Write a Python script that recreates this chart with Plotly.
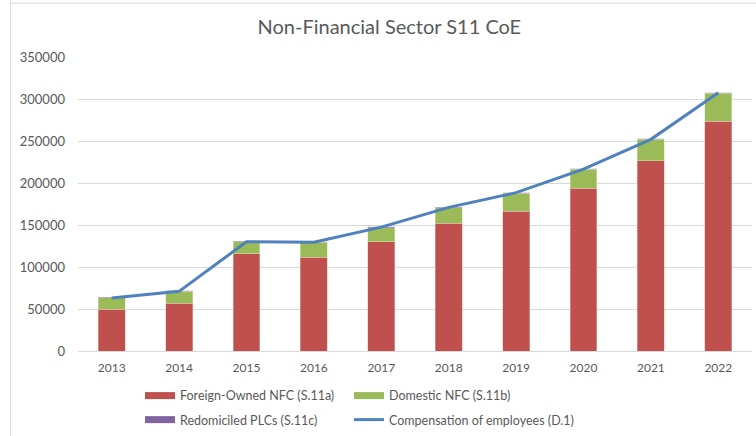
import plotly.graph_objects as go

years = ["2013", "2014", "2015", "2016", "2017", "2018", "2019", "2020", "2021", "2022"]
foreign_nfc = [49500, 56800, 115500, 111500, 130000, 152000, 166300, 194000, 226200, 273400]
domestic_nfc = [14000, 14200, 14500, 18000, 17000, 18500, 21500, 22200, 25600, 33500]
redomiciled_plc = [700, 700, 700, 700, 700, 700, 700, 700, 700, 700]
compensation = [63000, 71000, 130000, 129500, 147500, 171000, 188500, 216500, 252000, 307500]

yticks = [0, 50000, 100000, 150000, 200000, 250000, 300000, 350000]

FONT = "Lato, Open Sans, sans-serif"
GRAY = "#595959"

series = [
    ("Foreign-Owned NFC (S.11a)", foreign_nfc, "#C0504D", "#E6B9B8", "legend"),
    ("Domestic NFC (S.11b)", domestic_nfc, "#9BBB59", "#D7E4BD", "legend"),
    ("Redomiciled PLCs (S.11c)", redomiciled_plc, "#8064A2", "#CCC1DA", "legend2"),
]

fig = go.Figure()
for name, vals, col, edge, lg in series:
    fig.add_bar(x=years, y=vals, name=name, showlegend=False,
                marker=dict(color=col, line=dict(width=0.5, color=edge)))
# legend keys drawn as wide flat swatches, like the original legend
for name, vals, col, edge, lg in series:
    fig.add_scatter(x=[years[0]], y=[None], name=name, legend=lg, mode="lines",
                    line=dict(color=col, width=7), hoverinfo="skip")
fig.add_scatter(x=years, y=compensation, name="Compensation of employees (D.1)",
                legend="legend2", legendwidth=230, mode="lines",
                line=dict(color="#4F81BD", width=3))

leg_common = dict(orientation="h", xanchor="left", yanchor="top", yref="container",
                  entrywidth=164, entrywidthmode="pixels", traceorder="normal",
                  font=dict(size=12.5, color=GRAY, family=FONT), itemwidth=30,
                  bgcolor="rgba(0,0,0,0)")

fig.update_layout(
    width=756, height=436,
    margin=dict(l=78, r=4, t=57, b=85),
    paper_bgcolor="white", plot_bgcolor="white",
    barmode="stack", bargap=0.6,
    font=dict(family=FONT, size=12, color=GRAY),
    title=dict(text="Non-Financial Sector S11 CoE", x=0.515, xanchor="center",
               y=0.938, yanchor="middle", font=dict(size=20, color=GRAY, family=FONT)),
    showlegend=True,
    legend=dict(x=0.092, y=0.1262, **leg_common),
    legend2=dict(x=0.092, y=0.0711, **leg_common),
    xaxis=dict(showgrid=False, showline=True, linecolor="#D9D9D9", linewidth=1,
               ticks="", tickfont=dict(size=12, color=GRAY), ticklabelstandoff=6),
    yaxis=dict(range=[0, 350000], tickvals=yticks, ticktext=[str(v) for v in yticks],
               showgrid=True, gridcolor="#D9D9D9", gridwidth=1, zeroline=False,
               showline=False, ticks="", tickfont=dict(size=13, color=GRAY), ticklabelstandoff=12),
    shapes=[
        dict(type="line", xref="paper", yref="paper", x0=-0.1, x1=-0.1, y0=-0.5, y1=1.2,
             line=dict(color="#D9D9D9", width=1)),
        dict(type="line", xref="paper", yref="paper", x0=-0.1, x1=1.1, y0=1.183, y1=1.183,
             line=dict(color="#D9D9D9", width=1)),
    ],
)

fig.write_html("out.html", config={"displayModeBar": False},
               post_script="document.body.style.margin='0';document.body.style.padding='0';")
